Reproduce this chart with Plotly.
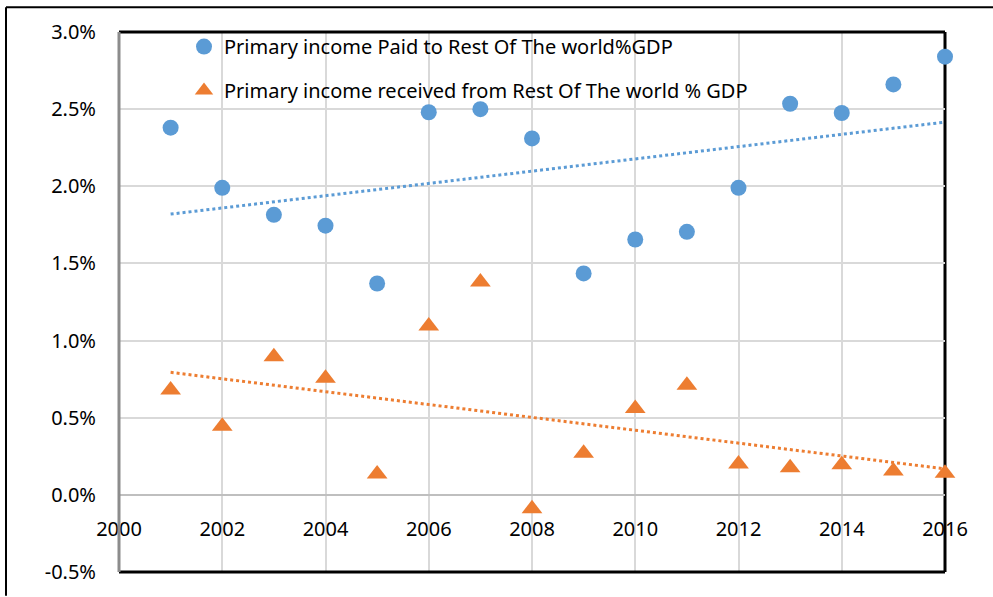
import numpy as np
import plotly.graph_objects as go

years = [2001, 2002, 2003, 2004, 2005, 2006, 2007, 2008,
         2009, 2010, 2011, 2012, 2013, 2014, 2015, 2016]
paid_pct = [2.38, 1.99, 1.815, 1.745, 1.37, 2.48, 2.50, 2.31,
            1.435, 1.655, 1.705, 1.99, 2.535, 2.475, 2.66, 2.84]
received_pct = [0.68, 0.445, 0.895, 0.755, 0.135, 1.095, 1.38, -0.09,
                0.27, 0.56, 0.71, 0.20, 0.175, 0.195, 0.155, 0.14]
y_tick_vals = [-0.005, 0.0, 0.005, 0.01, 0.015, 0.02, 0.025, 0.03]
y_tick_text = ["-0.5%", "0.0%", "0.5%", "1.0%", "1.5%", "2.0%", "2.5%", "3.0%"]
name_paid = "Primary income Paid to Rest Of The world%GDP"
name_received = "Primary income received from Rest Of The world % GDP"

BLUE = "#5B9BD5"
ORANGE = "#ED7D31"
FONT = "Noto Sans"

paid = [v / 100 for v in paid_pct]
received = [v / 100 for v in received_pct]
yrs = np.array(years, dtype=float)

def trend(vals):
    a, b = np.polyfit(yrs, np.array(vals), 1)
    return list(a * yrs + b)

fig = go.Figure()
fig.add_trace(go.Scatter(x=years, y=trend(paid), mode="lines", showlegend=False,
                         line=dict(color=BLUE, width=3, dash="dot"), hoverinfo="skip"))
fig.add_trace(go.Scatter(x=years, y=trend(received), mode="lines", showlegend=False,
                         line=dict(color=ORANGE, width=3, dash="dot"), hoverinfo="skip"))
fig.add_trace(go.Scatter(x=years, y=paid, mode="markers", name=name_paid,
                         legendgroup="a", cliponaxis=False,
                         marker=dict(color=BLUE, size=16, symbol="circle")))
fig.add_trace(go.Scatter(x=years, y=received, mode="markers", name=name_received,
                         legendgroup="b", cliponaxis=False,
                         marker=dict(color=ORANGE, size=18, symbol="triangle-up")))

W, H = 993, 597
L, R, T, B = 119, 48, 32, 21
pw, ph = W - L - R, H - T - B

def px_x(px):
    return (px - L) / pw

def px_y(py):
    return 1 - (py - T) / ph

fig.update_layout(
    width=W, height=H,
    margin=dict(l=L, r=R, t=T, b=B, pad=0),
    paper_bgcolor="white", plot_bgcolor="white",
    font=dict(family=FONT, size=20, color="black"),
    showlegend=True,
    legend=dict(x=px_x(184), y=px_y(27), xanchor="left", yanchor="top",
                bgcolor="rgba(0,0,0,0)", font=dict(size=20, family=FONT),
                traceorder="grouped", tracegroupgap=15, itemwidth=30),
    xaxis=dict(range=[2000, 2016], dtick=2, tick0=2000, showgrid=True,
               gridcolor="#D9D9D9", gridwidth=2, zeroline=False, showline=False,
               ticks="", anchor="free", position=px_y(498),
               ticklabelstandoff=20,
               tickfont=dict(size=20, family=FONT)),
    yaxis=dict(range=[-0.005, 0.03], tickvals=y_tick_vals, ticktext=y_tick_text,
               showgrid=True, gridcolor="#D9D9D9", gridwidth=2,
               zeroline=True, zerolinecolor="#BFBFBF", zerolinewidth=2,
               showline=False, ticks="", ticklabelstandoff=22,
               tickfont=dict(size=20, family=FONT)),
)

# plot-area frame
fig.add_shape(type="line", xref="x domain", yref="y domain", x0=0, x1=1, y0=1, y1=1,
              line=dict(color="black", width=3), layer="above")
fig.add_shape(type="line", xref="x domain", yref="y domain", x0=1, x1=1, y0=0, y1=1,
              line=dict(color="black", width=3), layer="below")
fig.add_shape(type="line", xref="x domain", yref="y domain", x0=0, x1=1, y0=0, y1=0,
              line=dict(color="black", width=3), layer="above")
fig.add_shape(type="line", xref="x domain", yref="y domain", x0=0, x1=0, y0=0, y1=1,
              line=dict(color="#8C8C8C", width=3), layer="above")
# outer chart border
fig.add_shape(type="line", xref="paper", yref="paper",
              x0=px_x(6), x1=px_x(1000), y0=px_y(7), y1=px_y(7),
              line=dict(color="black", width=2))
fig.add_shape(type="line", xref="paper", yref="paper",
              x0=px_x(6), x1=px_x(6), y0=px_y(7), y1=px_y(600),
              line=dict(color="black", width=2))

fig.write_html("out.html")
